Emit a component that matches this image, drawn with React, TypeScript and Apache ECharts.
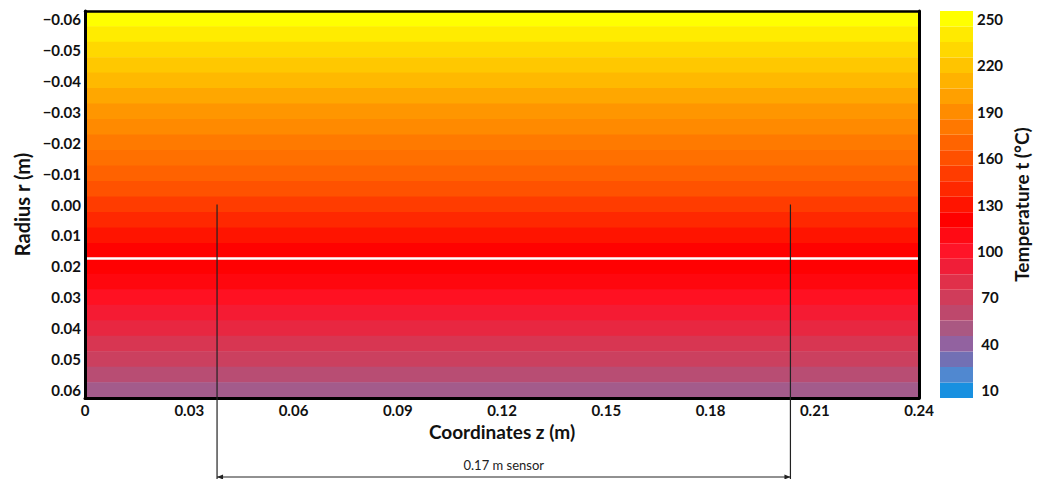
import React, { useEffect, useRef } from "react";
import * as echarts from "echarts";

// Radius row centres (m), top to bottom, each row 0.005 m tall
const radiusRows = [
  -0.06, -0.055, -0.05, -0.045, -0.04, -0.035, -0.03, -0.025, -0.02, -0.015, -0.01, -0.005,
  0.0, 0.005, 0.01, 0.015, 0.02, 0.025, 0.03, 0.035, 0.04, 0.045, 0.05, 0.055, 0.06,
];
// Temperature (°C) of each radius row
const rowTemps = [
  250, 241, 230, 222, 214, 204, 195, 189, 181, 176, 169, 161, 150,
  140, 130, 121, 119, 113, 103, 93, 85, 75, 67, 57, 47,
];
const rowHalf = 0.0025;
const zRange = [0, 0.24];
const rRange = [-0.0625, 0.0625];
const zTicks = [0, 0.03, 0.06, 0.09, 0.12, 0.15, 0.18, 0.21, 0.24];
const rTicks = [-0.06, -0.05, -0.04, -0.03, -0.02, -0.01, 0, 0.01, 0.02, 0.03, 0.04, 0.05, 0.06];

// Colour bar classes (°C) and colours
const legendTemps = [10, 20, 30, 40, 50, 60, 70, 80, 90, 100, 110, 120, 130, 140, 150, 160, 170, 180, 190, 200, 210, 220, 230, 240, 250];
const legendColors = [
  "#1890E0", "#5088D0", "#7270B4", "#9262A0", "#AA5882", "#BE486C", "#D03C5A", "#E0304A",
  "#F01E38", "#FF1428", "#FF0A14", "#FF0000", "#FF1400", "#FF2800", "#FF3C00", "#FF5000",
  "#FF6400", "#FF7800", "#FF8C00", "#FFA000", "#FFB200", "#FFC400", "#FFD800", "#FFEA00", "#FFFF00",
];

// Annotations
const whiteLineR = 0.0175;
const sensorStartZ = 0.038;
const sensorEndZ = 0.203;
const sensorTopR = 0.0;
const sensorLabel = "0.17 m sensor";

const FONT = "Lato, 'Open Sans', sans-serif";

export default function App() {
  const ref = useRef<HTMLDivElement>(null);
  useEffect(() => {
    if (!ref.current) return;
    const chart = echarts.init(ref.current, null, { renderer: "svg" });
    const fmtR = (v: number) => {
      const s = Math.abs(v).toFixed(2);
      return v < -1e-9 ? "\u2212" + s : s;
    };
    const fmtZ = (v: number) => (Math.abs(v) < 1e-9 ? "0" : v.toFixed(2));
    const option: any = {
      animation: false,
      textStyle: { fontFamily: FONT },
      grid: [
        { left: 85, top: 11, width: 834, height: 387 },
        { left: 940, top: 11, width: 33, height: 387 },
      ],
      visualMap: {
        show: false,
        type: "continuous",
        seriesIndex: 0,
        dimension: 1,
        min: 10,
        max: 250,
        inRange: { color: legendColors },
      },
      xAxis: [
        {
          gridIndex: 0,
          type: "value",
          min: zRange[0],
          max: zRange[1],
          interval: 0.03,
          z: 10,
          axisLine: { show: true, onZero: false, lineStyle: { color: "#000", width: 3 } },
          axisTick: { show: false },
          splitLine: { show: false },
          axisLabel: {
            color: "#111",
            fontWeight: "bold",
            fontSize: 15,
            fontFamily: FONT,
            margin: 4,
            formatter: fmtZ,
            customValues: zTicks,
          },
          name: "Coordinates z (m)",
          nameLocation: "middle",
          nameGap: 22,
          nameTextStyle: { color: "#111", fontWeight: "bold", fontSize: 19, fontFamily: FONT },
        },
        {
          gridIndex: 0,
          type: "value",
          position: "top",
          min: zRange[0],
          max: zRange[1],
          z: 10,
          axisLine: { show: true, onZero: false, lineStyle: { color: "#000", width: 2.5 } },
          axisTick: { show: false },
          axisLabel: { show: false },
          splitLine: { show: false },
        },
        { gridIndex: 1, type: "value", min: 0, max: 1, show: false },
      ],
      yAxis: [
        {
          gridIndex: 0,
          type: "value",
          inverse: true,
          min: rRange[0],
          max: rRange[1],
          z: 10,
          axisLine: { show: true, onZero: false, lineStyle: { color: "#000", width: 3 } },
          axisTick: { show: false },
          splitLine: { show: false },
          axisLabel: {
            color: "#111",
            fontWeight: "bold",
            fontSize: 15,
            fontFamily: FONT,
            margin: 4,
            formatter: fmtR,
            customValues: rTicks,
          },
          name: "Radius r (m)",
          nameLocation: "middle",
          nameRotate: 90,
          nameGap: 47,
          nameTextStyle: { color: "#111", fontWeight: "bold", fontSize: 20, fontFamily: FONT },
        },
        {
          gridIndex: 0,
          type: "value",
          position: "right",
          inverse: true,
          min: rRange[0],
          max: rRange[1],
          z: 10,
          axisLine: { show: true, onZero: false, lineStyle: { color: "#000", width: 3 } },
          axisTick: { show: false },
          axisLabel: { show: false },
          splitLine: { show: false },
        },
        {
          gridIndex: 1,
          type: "category",
          position: "right",
          data: legendTemps.map(String),
          axisLine: { show: false },
          axisTick: { show: false },
          splitLine: { show: false },
          axisLabel: {
            interval: 2,
            color: "#111",
            fontWeight: "bold",
            fontSize: 15,
            fontFamily: FONT,
            align: "center",
            margin: 17,
          },
          name: "Temperature t (°C)",
          nameLocation: "middle",
          nameRotate: 90,
          nameGap: 39,
          nameTextStyle: { color: "#111", fontWeight: "bold", fontSize: 19, fontFamily: FONT },
        },
      ],
      series: [
        {
          type: "custom",
          xAxisIndex: 0,
          yAxisIndex: 0,
          data: radiusRows.map((r, i) => [r, rowTemps[i]]),
          encode: { y: 0 },
          renderItem: (params: any, api: any) => {
            const r = api.value(0);
            const p0 = api.coord([zRange[0], r - rowHalf]);
            const p1 = api.coord([zRange[1], r + rowHalf]);
            const y = Math.min(p0[1], p1[1]);
            const h = Math.abs(p1[1] - p0[1]);
            return {
              type: "rect",
              shape: { x: p0[0], y: y - 0.3, width: p1[0] - p0[0], height: h + 0.6 },
              style: { fill: api.visual("color") },
            };
          },
          markLine: {
            silent: true,
            symbol: "none",
            precision: 5,
            label: { show: false },
            lineStyle: { color: "#ffffff", width: 2.5, type: "solid" },
            data: [{ yAxis: whiteLineR }],
          },
        },
        {
          type: "bar",
          xAxisIndex: 2,
          yAxisIndex: 2,
          data: legendTemps.map(() => 1),
          colorBy: "data",
          color: legendColors,
          barCategoryGap: "0%",
          barWidth: "100%",
        },
      ],
    };
    chart.setOption(option);

    const a = chart.convertToPixel({ xAxisIndex: 0, yAxisIndex: 0 }, [sensorStartZ, sensorTopR]) as number[];
    const b = chart.convertToPixel({ xAxisIndex: 0, yAxisIndex: 0 }, [sensorEndZ, sensorTopR]) as number[];
    const bottom = 479;
    const arrowY = 477;
    const lineStyle = { stroke: "#222", lineWidth: 1.2 };
    chart.setOption({
      graphic: [
        { type: "line", z: 100, shape: { x1: a[0], y1: a[1], x2: a[0], y2: bottom }, style: lineStyle },
        { type: "line", z: 100, shape: { x1: b[0], y1: b[1], x2: b[0], y2: bottom }, style: lineStyle },
        { type: "line", z: 100, shape: { x1: a[0], y1: arrowY, x2: b[0], y2: arrowY }, style: { stroke: "#222", lineWidth: 1 } },
        {
          type: "polygon",
          z: 100,
          shape: { points: [[a[0], arrowY], [a[0] + 6, arrowY - 2.5], [a[0] + 6, arrowY + 2.5]] },
          style: { fill: "#222" },
        },
        {
          type: "polygon",
          z: 100,
          shape: { points: [[b[0], arrowY], [b[0] - 6, arrowY - 2.5], [b[0] - 6, arrowY + 2.5]] },
          style: { fill: "#222" },
        },
        {
          type: "text",
          z: 100,
          x: (a[0] + b[0]) / 2,
          y: 465,
          style: {
            text: sensorLabel,
            fill: "#222",
            font: `13px ${FONT}`,
            align: "center",
            verticalAlign: "middle",
          },
        },
      ],
    });
    return () => chart.dispose();
  }, []);
  return (
    <div
      ref={ref}
      style={{ position: "absolute", left: 0, top: 0, width: 1045, height: 479, background: "#fff" }}
    />
  );
}
